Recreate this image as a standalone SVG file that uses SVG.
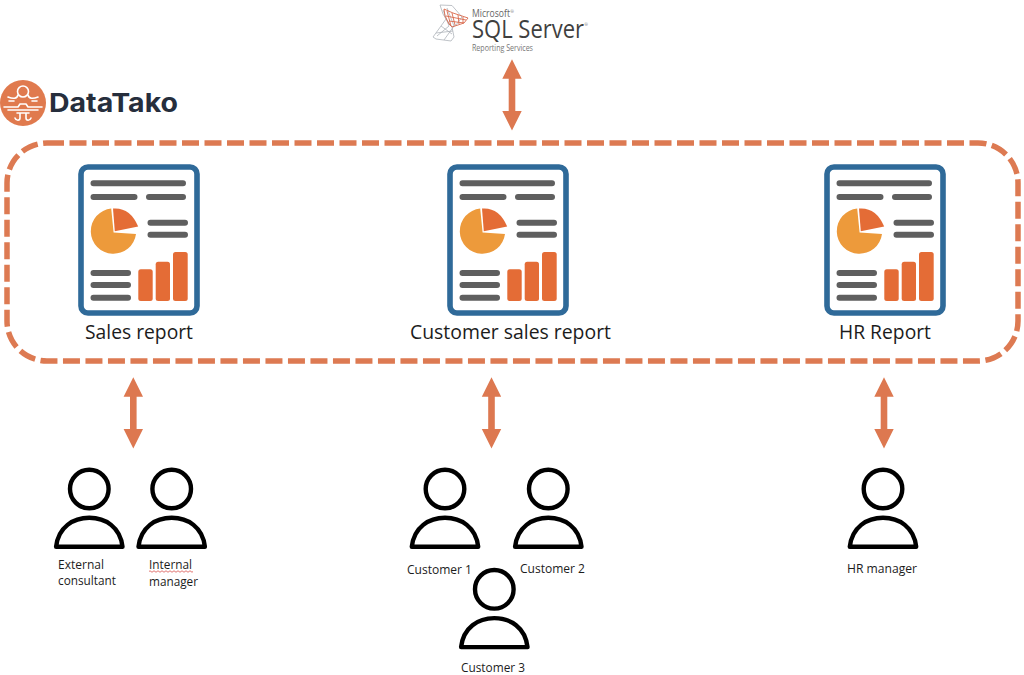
<svg xmlns="http://www.w3.org/2000/svg" xmlns:xlink="http://www.w3.org/1999/xlink" width="1024" height="675" viewBox="0 0 1024 675">
<style>
.bar{stroke:#5f5f5f;stroke-width:6;stroke-linecap:round;fill:none}
.o{fill:#e46c36}
.lab{font-family:"Open Sans","Noto Sans",sans-serif;fill:#1c1c1c}
.rep{font-size:19.5px}
.per{font-size:12px}
.arrow{fill:#dd7850}
.ph{fill:none;stroke:#000;stroke-width:4.4}
.circ{fill:none;stroke:#fff;stroke-width:1.6;stroke-linecap:round;stroke-linejoin:round}
.net{fill:none;stroke:#d9694c;stroke-width:.9}
.net2{fill:none;stroke:#aeb4ba;stroke-width:.8}
</style>
<defs>
<g id="report">
<rect x="81" y="167" width="116" height="146" rx="7" fill="#fff" stroke="#2f6a99" stroke-width="5.6"/>
<path class="bar" d="M93.5 183.3H183M93.5 197H134.500M149 197H183M150.500 222.700H185M150.500 234.700H185M93.500 273H128M93.500 285H128M93.500 297.700H128"/>
<path d="M111.200 208.500L113.600 232.500L136 234A22.700 22.700 0 1 1 111.200 208.500Z" fill="#ed9a3b" transform="translate(0 0)"/>
<path d="M113 208.500Q130 207 138.200 226.500L114.800 231.200Z" class="o"/>
<rect class="o" x="138.300" y="269.300" width="14.400" height="31.700" rx="2.500"/>
<rect class="o" x="155.700" y="261.700" width="14.300" height="39.300" rx="2.500"/>
<rect class="o" x="173" y="252" width="14.700" height="49" rx="2.500"/>
</g>
<g id="person">
<circle class="ph" cx="0" cy="0" r="19.300"/>
<path class="ph" stroke-linejoin="round" d="M-33.200 57.800C-31 38 -16 28.800 0 28.800C16 28.800 31 38 33.200 57.800Z"/>
</g>
<polygon id="arrowShape" class="arrow" points="0,0 9.700,19.500 3.300,19.500 3.300,51.700 9.700,51.700 0,71.300 -9.700,51.700 -3.300,51.700 -3.300,19.500 -9.700,19.500"/>
</defs>

<g id="datatako-logo">
<circle cx="23" cy="103" r="23" fill="#e07a4e"/>
<circle class="circ" cx="23" cy="91.500" r="5.500"/>
<path class="circ" d="M18 95C17 99 13 99 8 97M28 95C29 99 33 99 38 97M14 101H9M32 101H37M4 107H18L20 104H26L28 107H42M8 110H38M20 113V118C20 121 16 121 15 118M26 113V118C26 121 30 121 31 118M17 113H29"/>
<text x="49" y="112" font-family="Inter,Lato,sans-serif" font-weight="700" font-size="26" fill="#262e3c" textLength="129" lengthAdjust="spacingAndGlyphs">DataTako</text>
</g>

<g id="sql-server-logo">
<path class="net2" d="M440 5L452 5.500L462 17L456 25L452 27L454 37L451 41L436 39L433 37L441 26L446 19L443 14Z M443 10L449 26L437 36M447 8L454 26L444 40M446 19L452 27M441 26L452 34M436 33L453 31"/>
<path class="net" d="M444 9L453 13L468 18L464 23L452 27L449 24L445 16ZM447 11L451 26M452 13L455 25M458 15L459 24M463 17L463 23M446 16L466 20M449 21L464 23"/>
<text x="472" y="17" font-family="'Open Sans',sans-serif" font-size="11.500" fill="#666" textLength="38" lengthAdjust="spacingAndGlyphs">Microsoft</text>
<text x="510.500" y="12.500" font-family="'Open Sans',sans-serif" font-size="4" fill="#666">®</text>
<text x="472" y="38.300" font-family="'Open Sans',sans-serif" font-size="25" fill="#3f3f3f" textLength="112" lengthAdjust="spacingAndGlyphs">SQL Server</text>
<text x="584.500" y="26" font-family="'Open Sans',sans-serif" font-size="4" fill="#666">®</text>
<text x="472" y="50.500" font-family="'Open Sans',sans-serif" font-size="8.500" fill="#777" textLength="61" lengthAdjust="spacingAndGlyphs">Reporting Services</text>
</g>

<g id="datatako-boundary">
<rect x="7" y="143" width="1011" height="218" rx="40" fill="none" stroke="#dd7a52" stroke-width="5.500" stroke-dasharray="17 5.500"/>
</g>

<g id="connectors">
<use xlink:href="#arrowShape" href="#arrowShape" x="512" y="59.300"/>
<use xlink:href="#arrowShape" href="#arrowShape" x="133.300" y="377.200"/>
<use xlink:href="#arrowShape" href="#arrowShape" x="491.500" y="377.200"/>
<use xlink:href="#arrowShape" href="#arrowShape" x="884" y="377.200"/>
</g>

<g id="sales-report">
<use xlink:href="#report" href="#report"/>
<text class="lab rep" x="85" y="339" textLength="108" lengthAdjust="spacingAndGlyphs">Sales report</text>
</g>
<g id="customer-sales-report">
<use xlink:href="#report" href="#report" x="369"/>
<text class="lab rep" x="410" y="339" textLength="201" lengthAdjust="spacingAndGlyphs">Customer sales report</text>
</g>
<g id="hr-report">
<use xlink:href="#report" href="#report" x="746"/>
<text class="lab rep" x="839" y="339" textLength="92" lengthAdjust="spacingAndGlyphs">HR Report</text>
</g>

<g id="external-consultant">
<use xlink:href="#person" href="#person" x="89.300" y="489"/>
<text class="lab per" x="58" y="569" textLength="46" lengthAdjust="spacingAndGlyphs">External</text>
<text class="lab per" x="58" y="585" textLength="58" lengthAdjust="spacingAndGlyphs">consultant</text>
</g>
<g id="internal-manager">
<use xlink:href="#person" href="#person" x="171.700" y="489"/>
<text class="lab per" x="149" y="569" textLength="43" lengthAdjust="spacingAndGlyphs">Internal</text>
<path d="M149 571.500q1 -1.500 2 0t2 0t2 0t2 0t2 0t2 0t2 0t2 0t2 0t2 0t2 0t2 0t2 0t2 0t2 0t2 0t2 0t2 0t2 0t2 0t2 0t2 0" fill="none" stroke="#d9534f" stroke-width=".8"/>
<text class="lab per" x="149" y="586" textLength="49" lengthAdjust="spacingAndGlyphs">manager</text>
</g>
<g id="customer-1">
<use xlink:href="#person" href="#person" x="445" y="489"/>
<text class="lab per" x="407" y="574" textLength="65" lengthAdjust="spacingAndGlyphs">Customer 1</text>
</g>
<g id="customer-2">
<use xlink:href="#person" href="#person" x="548.300" y="489"/>
<text class="lab per" x="520" y="573" textLength="65" lengthAdjust="spacingAndGlyphs">Customer 2</text>
</g>
<g id="customer-3">
<use xlink:href="#person" href="#person" x="494.300" y="589.300"/>
<text class="lab per" x="461" y="672" textLength="64" lengthAdjust="spacingAndGlyphs">Customer 3</text>
</g>
<g id="hr-manager">
<use xlink:href="#person" href="#person" x="883" y="489"/>
<text class="lab per" x="847" y="573" textLength="70" lengthAdjust="spacingAndGlyphs">HR manager</text>
</g>
</svg>
